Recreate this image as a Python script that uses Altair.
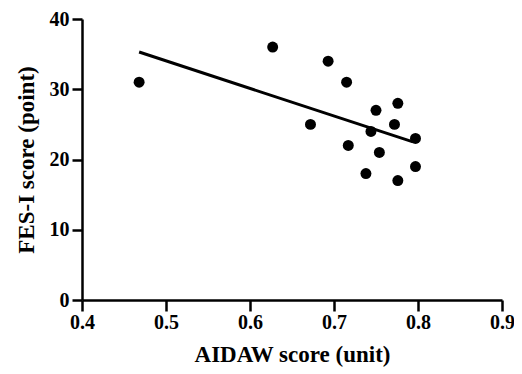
import altair as alt
import pandas as pd

# Scatter data
aidaw = [0.468, 0.627, 0.693, 0.715, 0.672, 0.750, 0.776, 0.772, 0.744, 0.717,
         0.754, 0.797, 0.797, 0.738, 0.776]
fes = [31, 36, 34, 31, 25, 27, 28, 25, 24, 22, 21, 23, 19, 18, 17]

# Fitted line end points as drawn in the picture
fit_x = [0.468, 0.794]
fit_y = [35.3, 22.5]

x_ticks = [0.4, 0.5, 0.6, 0.7, 0.8, 0.9]
y_ticks = [0, 10, 20, 30, 40]

pts = pd.DataFrame({"x": aidaw, "y": fes})
fit = pd.DataFrame({"x": fit_x, "y": fit_y})

FONT = "Liberation Serif"

xs = alt.Scale(domain=[0.4, 0.9], nice=False, zero=False)
ys = alt.Scale(domain=[0, 40], nice=False)

xaxis = alt.Axis(values=x_ticks, format=".1f", title="AIDAW score (unit)",
                 ticks=True, tickSize=11, tickWidth=2.5, tickColor="black",
                 labelPadding=1, titlePadding=11)
yaxis = alt.Axis(values=y_ticks, title="FES-I score (point)",
                 ticks=True, tickSize=10, tickWidth=2.5, tickColor="black",
                 labelPadding=3, titlePadding=11)

points = alt.Chart(pts).mark_circle(size=120, color="black", opacity=1).encode(
    x=alt.X("x:Q", scale=xs, axis=xaxis),
    y=alt.Y("y:Q", scale=ys, axis=yaxis),
)

line = alt.Chart(fit).mark_line(color="black", strokeWidth=3).encode(
    x=alt.X("x:Q", scale=xs),
    y=alt.Y("y:Q", scale=ys),
)

chart = (line + points).properties(
    width=420, height=281,
    autosize=alt.AutoSizeParams(type="none"),
    padding={"left": 74, "top": 11, "right": 12, "bottom": 70},
).configure_view(stroke=None).configure_axis(
    grid=False, domainWidth=2.5, domainColor="black",
    labelColor="black", labelFont=FONT, labelFontSize=20, labelFontWeight="bold",
    titleFont=FONT, titleFontSize=23, titleFontWeight="bold", titleColor="black",
    labelFlush=False,
)

chart.save("out.html", embed_options={"renderer": "svg", "actions": False})
